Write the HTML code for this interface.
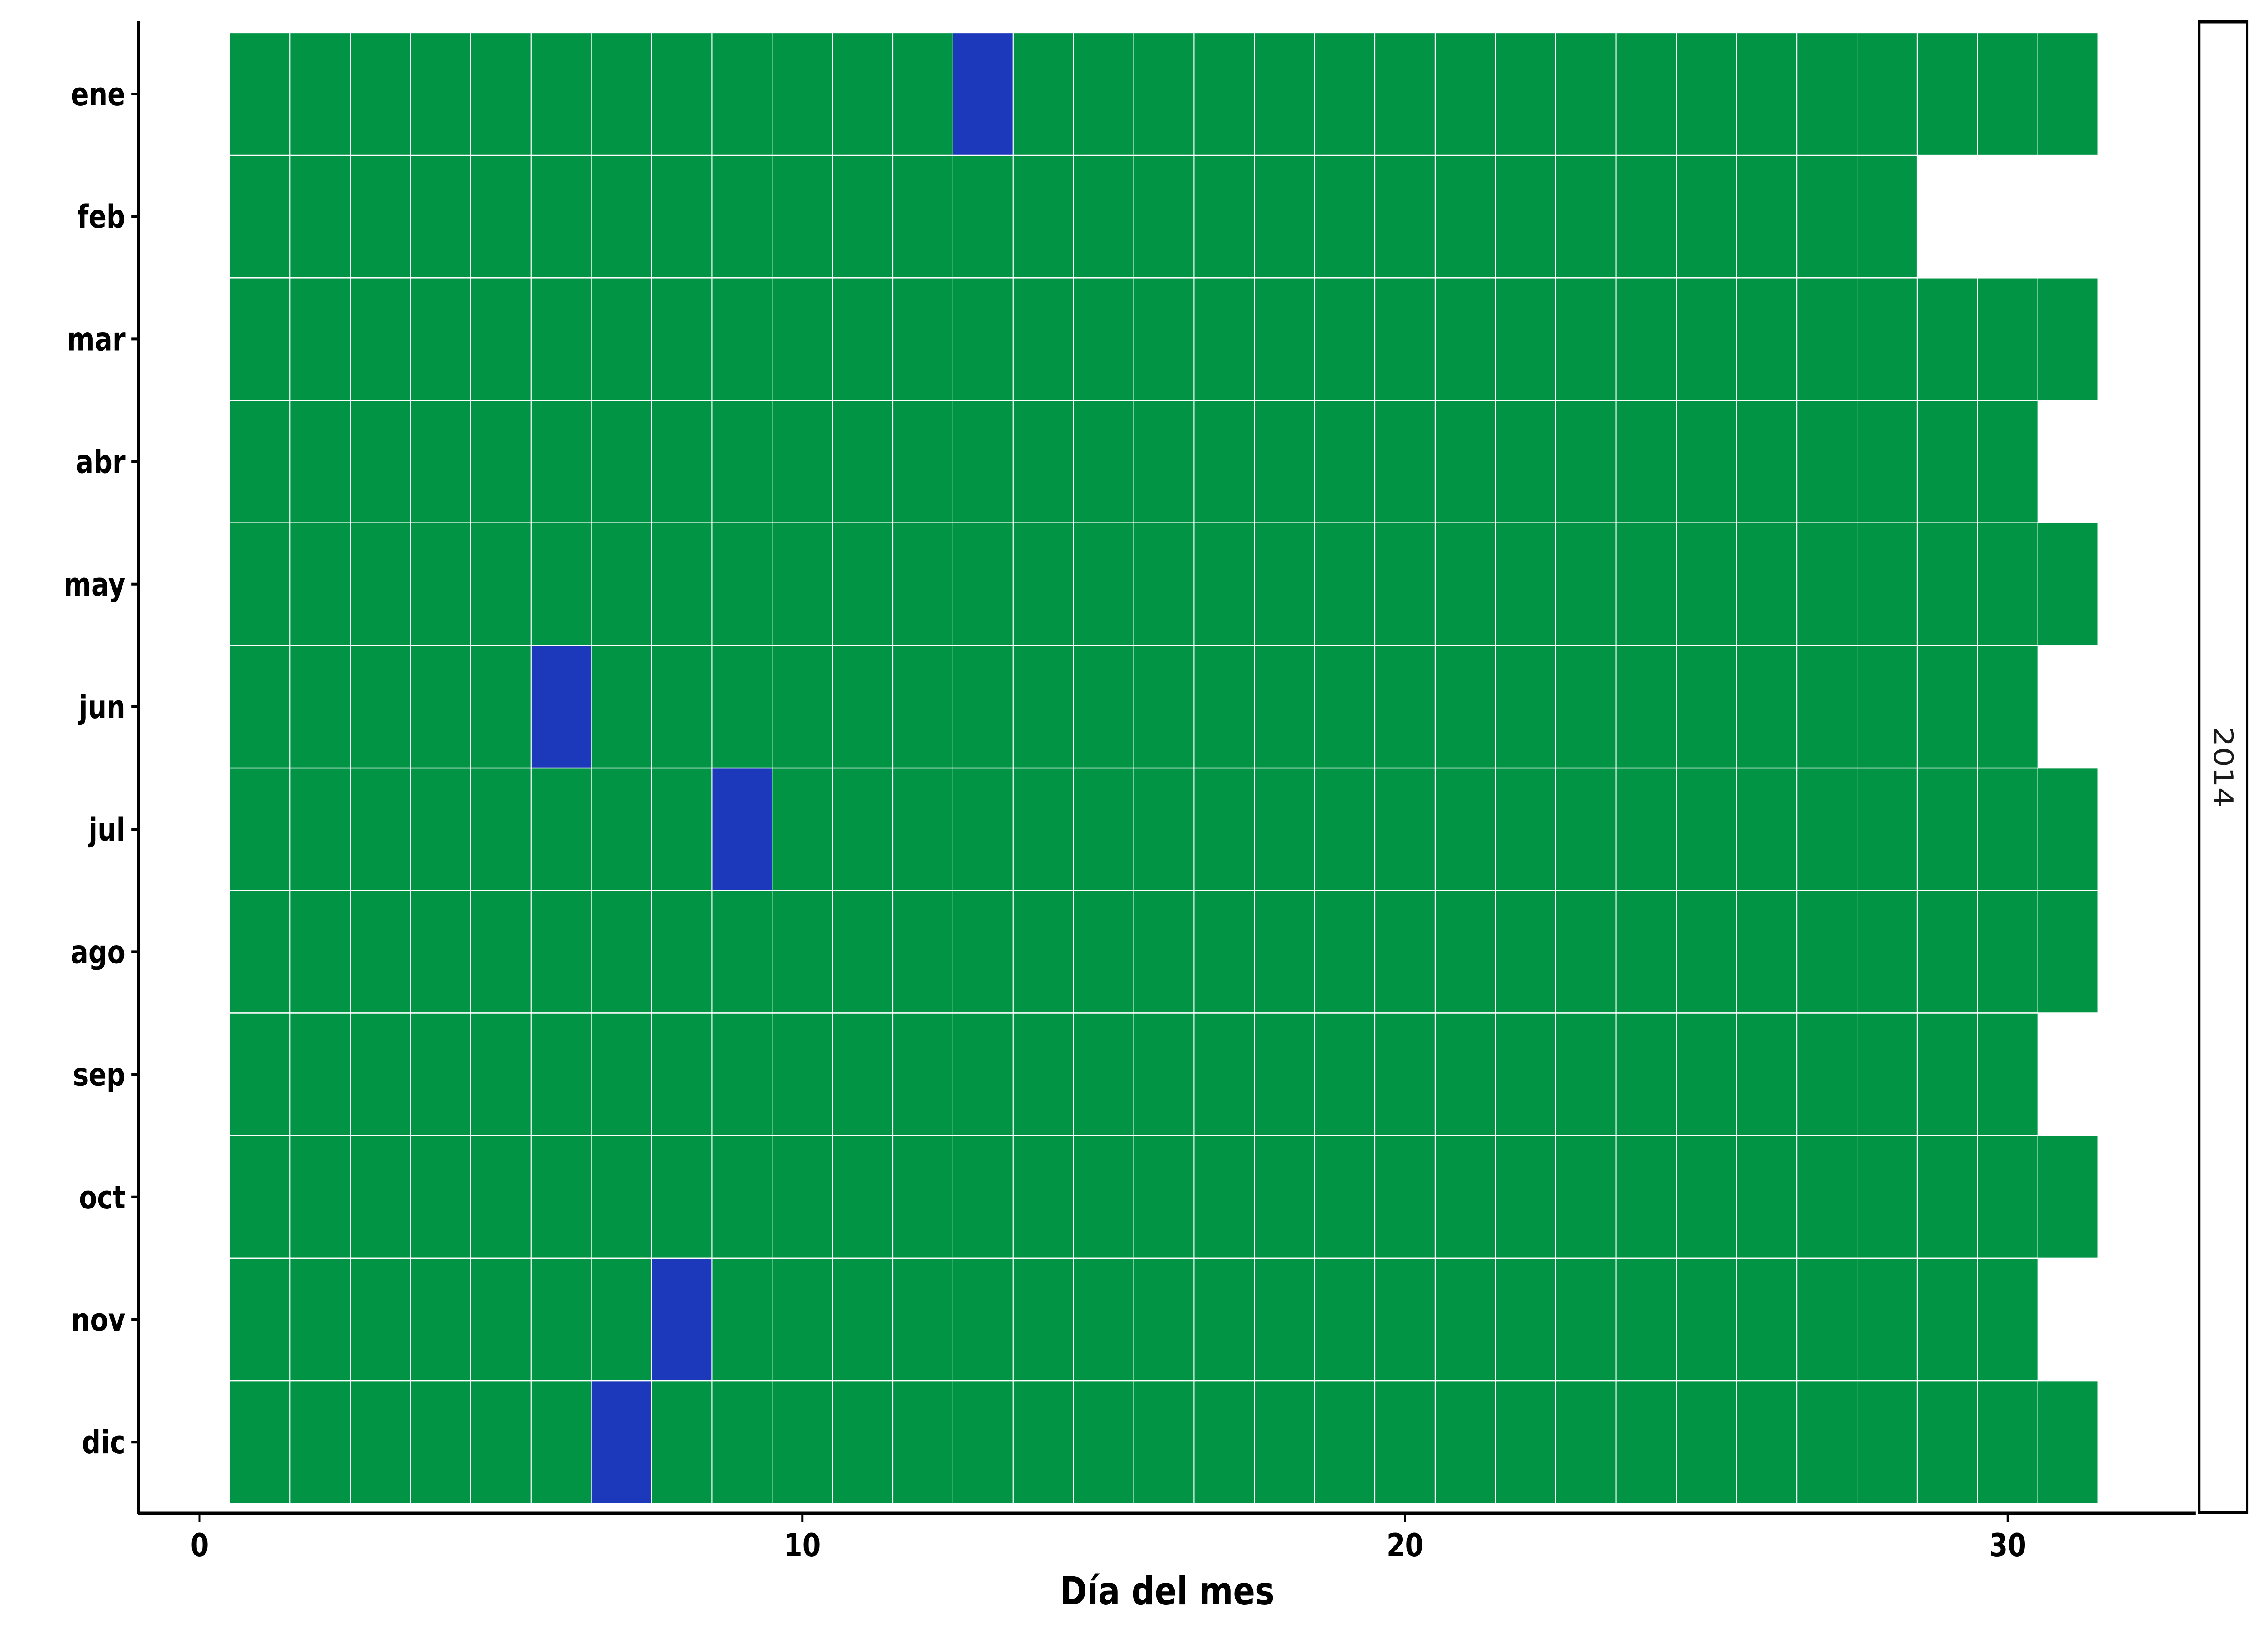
<!DOCTYPE html>
<html><head><meta charset="utf-8"><style>
html,body{margin:0;padding:0;background:#fff;overflow:hidden;width:100vw;height:100vh;}
svg{display:block;width:100vw;height:100vh;font-family:"DejaVu Sans","Liberation Sans",sans-serif;}
</style></head><body>
<svg id="chart" viewBox="0 0 6000 3600" preserveAspectRatio="none" xmlns="http://www.w3.org/2000/svg">
<g id="tiles"></g>
<g id="axes"></g>
</svg>
<script>
const months = ['ene','feb','mar','abr','may','jun','jul','ago','sep','oct','nov','dic'];
const daysInMonth = [31,28,31,30,31,30,31,31,30,31,30,31];
const blueDays = [[0,13],[5,6],[6,9],[10,8],[11,7]];
const xTicks = [0,10,20,30];
const yearLabel = '2014';

const NS='http://www.w3.org/2000/svg';
const tilesG=document.getElementById('tiles');
const axesG=document.getElementById('axes');
const x0=528, dx=159.45;
function xs(d){return x0+d*dx;}
const y0=207, dy=270.2;
function ys(i){return y0+i*dy;}
function mk(tag,attrs,parent){const e=document.createElementNS(NS,tag);for(const k in attrs)e.setAttribute(k,attrs[k]);parent.appendChild(e);return e;}

function isBlue(m,d){return blueDays.some(b=>b[0]===m&&b[1]===d);}
months.forEach((m,i)=>{
  for(let d=1;d<=daysInMonth[i];d++){
    const r=mk('rect',{x:xs(d-0.5),y:ys(i)-dy/2,width:dx,height:dy,fill:isBlue(i,d)?'#1c39bb':'#009444',stroke:'#ffffff','stroke-width':2.5},tilesG);
    
    
  }
});

const pLeft=367,pBottom=3336,pTop=46,pRight=5809;
const yLine=mk('line',{x1:pLeft,y1:pTop,x2:pLeft,y2:pBottom+2,stroke:'#000','stroke-width':7},axesG);


const xLine=mk('line',{x1:pLeft-2,y1:pBottom,x2:pRight,y2:pBottom,stroke:'#000','stroke-width':7},axesG);



months.forEach((m,i)=>{
  mk('line',{x1:pLeft-20,y1:ys(i),x2:pLeft,y2:ys(i),stroke:'#000','stroke-width':6},axesG);
  const lab=mk('text',{x:pLeft-35,y:ys(i)+25,'text-anchor':'end','font-size':70,'font-weight':'bold',fill:'#000'},axesG);
  lab.textContent=m;
  
  
});
xTicks.forEach(v=>{
  mk('line',{x1:xs(v),y1:pBottom,x2:xs(v),y2:pBottom+20,stroke:'#000','stroke-width':6},axesG);
  const lab=mk('text',{x:xs(v),y:pBottom+95,'text-anchor':'middle','font-size':70,'font-weight':'bold',fill:'#000'},axesG);
  lab.textContent=v;
  
  
});
const xTitle=mk('text',{x:3088,y:3537,'text-anchor':'middle','font-size':86,'font-weight':'bold',fill:'#000'},axesG);
xTitle.textContent='Día del mes';



const strip=mk('rect',{x:5818,y:48,width:127,height:3286,fill:'#fff',stroke:'#000','stroke-width':7},axesG);


const stripLabel=mk('text',{x:0,y:0,'text-anchor':'middle','font-size':70,fill:'#1a1a1a',transform:'translate(5858,1691) rotate(90)'},axesG);
stripLabel.textContent=yearLabel;


</script>
</body></html>
